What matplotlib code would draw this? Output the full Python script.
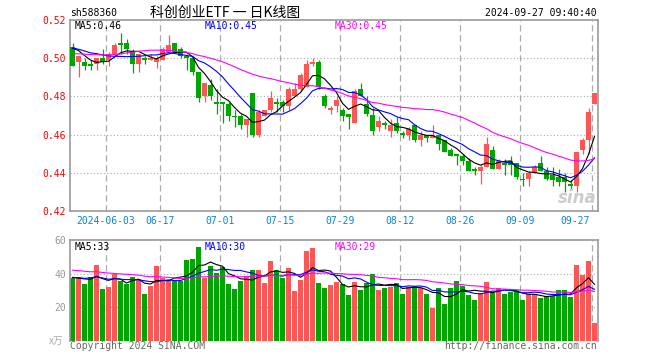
import numpy as np
import pandas as pd
import matplotlib
matplotlib.use("Agg")
import matplotlib.pyplot as plt
import matplotlib.transforms as mtransforms

plt.rcParams['font.family'] = ['DejaVu Sans Mono', 'Noto Sans CJK SC']

W, H = 660, 360

# trading days shown (holidays removed)
dates = pd.bdate_range("2024-05-24", "2024-09-27")
dates = dates[~dates.isin(pd.to_datetime(["2024-06-10", "2024-09-16", "2024-09-17"]))]

opens = [0.506, 0.498, 0.498, 0.497, 0.497, 0.500, 0.499, 0.502, 0.508, 0.508,
         0.504, 0.497, 0.500, 0.499, 0.498, 0.499, 0.503, 0.508, 0.505, 0.501,
         0.500, 0.493, 0.480, 0.486, 0.477, 0.477, 0.476, 0.470, 0.470, 0.465,
         0.482, 0.460, 0.470, 0.473, 0.477, 0.477, 0.475, 0.480, 0.484, 0.485,
         0.497, 0.498, 0.480, 0.473, 0.475, 0.473, 0.471, 0.466, 0.484, 0.476,
         0.470, 0.464, 0.466, 0.462, 0.466, 0.461, 0.460, 0.465, 0.457, 0.460,
         0.458, 0.460, 0.457, 0.452, 0.450, 0.449, 0.446, 0.442, 0.441, 0.443,
         0.452, 0.442, 0.445, 0.446, 0.445, 0.437, 0.437, 0.440, 0.445, 0.441,
         0.439, 0.438, 0.438, 0.434, 0.433, 0.452, 0.457, 0.476]
highs = [0.508, 0.501, 0.500, 0.499, 0.500, 0.505, 0.503, 0.508, 0.513, 0.510,
         0.505, 0.502, 0.501, 0.502, 0.501, 0.506, 0.512, 0.508, 0.506, 0.502,
         0.501, 0.493, 0.487, 0.489, 0.484, 0.477, 0.477, 0.473, 0.471, 0.468,
         0.482, 0.473, 0.473, 0.483, 0.479, 0.478, 0.485, 0.487, 0.492, 0.499,
         0.500, 0.499, 0.481, 0.475, 0.480, 0.474, 0.471, 0.484, 0.487, 0.480,
         0.474, 0.470, 0.467, 0.468, 0.469, 0.462, 0.464, 0.465, 0.462, 0.460,
         0.465, 0.460, 0.457, 0.453, 0.450, 0.450, 0.448, 0.443, 0.444, 0.459,
         0.454, 0.447, 0.447, 0.449, 0.445, 0.440, 0.441, 0.444, 0.449, 0.443,
         0.443, 0.442, 0.440, 0.436, 0.451, 0.458, 0.474, 0.482]
lows = [0.496, 0.490, 0.494, 0.494, 0.494, 0.497, 0.496, 0.501, 0.502, 0.502,
        0.492, 0.493, 0.497, 0.499, 0.495, 0.499, 0.503, 0.503, 0.500, 0.494,
        0.491, 0.477, 0.477, 0.478, 0.471, 0.466, 0.467, 0.464, 0.463, 0.459,
        0.459, 0.459, 0.470, 0.472, 0.472, 0.472, 0.473, 0.480, 0.483, 0.485,
        0.496, 0.484, 0.474, 0.471, 0.472, 0.467, 0.463, 0.466, 0.480, 0.470,
        0.460, 0.462, 0.463, 0.459, 0.461, 0.458, 0.457, 0.456, 0.454, 0.456,
        0.458, 0.452, 0.451, 0.449, 0.444, 0.444, 0.441, 0.439, 0.434, 0.443,
        0.442, 0.442, 0.439, 0.439, 0.437, 0.433, 0.433, 0.440, 0.441, 0.436,
        0.433, 0.433, 0.430, 0.431, 0.430, 0.450, 0.450, 0.476]
closes = [0.496, 0.501, 0.496, 0.496, 0.500, 0.498, 0.502, 0.507, 0.507, 0.505,
          0.497, 0.502, 0.499, 0.500, 0.500, 0.505, 0.507, 0.503, 0.501, 0.500,
          0.493, 0.479, 0.487, 0.480, 0.476, 0.476, 0.470, 0.469, 0.465, 0.468,
          0.460, 0.472, 0.473, 0.479, 0.476, 0.475, 0.484, 0.484, 0.491, 0.497,
          0.498, 0.485, 0.475, 0.474, 0.478, 0.470, 0.469, 0.483, 0.480, 0.471,
          0.462, 0.467, 0.465, 0.465, 0.462, 0.460, 0.463, 0.457, 0.460, 0.458,
          0.460, 0.455, 0.451, 0.449, 0.449, 0.446, 0.441, 0.441, 0.443, 0.455,
          0.442, 0.446, 0.444, 0.444, 0.438, 0.436, 0.440, 0.443, 0.441, 0.437,
          0.436, 0.435, 0.435, 0.433, 0.451, 0.457, 0.472, 0.482]
volumes = [37.6, 37.6, 33.6, 37.8, 45.2, 30.6, 32.2, 39.6, 35.6, 33.6,
           37.8, 36.6, 27.6, 32.8, 44.4, 37.6, 36.0, 35.6, 35.6, 48.0,
           48.8, 55.8, 37.2, 44.4, 40.4, 44.0, 33.6, 30.6, 35.6, 38.8,
           42.0, 42.0, 34.2, 47.6, 42.0, 37.6, 43.4, 29.6, 36.0, 53.6,
           55.2, 34.4, 31.2, 33.0, 34.8, 33.8, 27.0, 34.8, 30.0, 34.4,
           39.6, 30.0, 31.2, 32.2, 34.2, 27.6, 32.0, 32.8, 31.6, 27.6,
           19.4, 31.2, 21.6, 31.2, 35.4, 32.4, 27.0, 24.0, 28.6, 34.8,
           28.8, 31.2, 27.6, 28.8, 30.0, 24.0, 27.6, 27.6, 25.2, 26.4,
           26.4, 30.0, 30.0, 25.8, 45.2, 39.0, 47.4, 10.2]

# earlier sessions, only used to start the moving averages
pre_closes = [0.500, 0.503, 0.501, 0.502, 0.504, 0.500, 0.502, 0.499,
              0.488, 0.486, 0.487, 0.489, 0.492,
              0.500, 0.506, 0.510, 0.512, 0.511, 0.513, 0.510,
              0.508, 0.505, 0.506, 0.504, 0.505,
              0.507, 0.509, 0.508, 0.506]
pre_volumes = [46, 44, 48, 43, 45, 42, 47, 44, 41, 45,
               43, 46, 44, 42, 45, 43, 44, 46, 42, 45,
               36, 39, 35, 38, 38,
               40, 36, 39, 36]

tick_dates = ["2024-06-03", "2024-06-17", "2024-07-01", "2024-07-15", "2024-07-29",
              "2024-08-12", "2024-08-26", "2024-09-09", "2024-09-27"]

RED = '#ff5555'
GREEN = '#00a600'
FRAME = '#999999'
MA_COLORS = {5: 'black', 10: '#0000ff', 30: '#ff00ff'}

o = np.array(opens); hi = np.array(highs); lo = np.array(lows); c = np.array(closes)
v = np.array(volumes)
x = np.arange(len(c))
cols = [RED if cc >= oo else GREEN for oo, cc in zip(o, c)]


def ma(pre, vals, n):
    s = pd.Series(list(pre) + list(vals))
    return s.rolling(n).mean().iloc[len(pre):].to_numpy()


fig = plt.figure(figsize=(W / 100, H / 100), dpi=100)
ax = fig.add_axes([70 / W, 1 - 211 / H, 528 / W, 191 / H])
axv = fig.add_axes([70 / W, 1 - 340.5 / H, 528 / W, 100.5 / H])

xmin, xmax = -5 / 12, len(c) - 5 / 12
tick_idx = [dates.get_loc(pd.Timestamp(d)) for d in tick_dates]

# ---- price panel
for yv in [0.44, 0.46, 0.48, 0.50]:
    ax.axhline(yv, color='#aaaaaa', lw=0.8, ls=(0, (1, 2)), zorder=0)
for t in tick_idx:
    ax.axvline(t - 0.4, color='#aaaaaa', lw=0.9, ls=(0, (5, 3)), zorder=0)

ax.vlines(x, lo, hi, colors=cols, lw=0.9, zorder=2)
ax.bar(x, np.maximum(np.abs(c - o), 0.0005), bottom=np.minimum(o, c), width=0.82,
       color=cols, lw=0, zorder=3)
for n, col in MA_COLORS.items():
    ax.plot(x, ma(pre_closes, closes, n), color=col, lw=0.8, zorder=4)

ax.set_xlim(xmin, xmax)
ax.set_ylim(0.42, 0.52)
ax.set_yticks(np.arange(0.42, 0.5201, 0.02))
ax.set_yticklabels([f"{t:.2f}" for t in np.arange(0.42, 0.5201, 0.02)])
ax.tick_params(axis='y', length=0, pad=3, labelsize=7, labelcolor='red')
ax.set_xticks([])
for s in ax.spines.values():
    s.set_color(FRAME)
    s.set_linewidth(1.2)

trans = mtransforms.blended_transform_factory(ax.transData, ax.transAxes)
for k, (t, d) in enumerate(zip(tick_idx, tick_dates)):
    lab = d if k == 0 else d[5:]
    if k == len(tick_idx) - 1:
        ax.text(xmax - 1.3, -0.05, lab, transform=trans, ha='right', va='center',
                fontsize=7, color='#0a84d6')
    else:
        ax.text(t - 0.4, -0.05, lab, transform=trans, ha='center', va='center',
                fontsize=7, color='#0a84d6')

# ---- volume panel
for yv in [20, 40]:
    axv.axhline(yv, color='#aaaaaa', lw=0.8, ls=(0, (1, 2)), zorder=0)
for t in tick_idx:
    axv.axvline(t - 0.4, color='#aaaaaa', lw=0.9, ls=(0, (5, 3)), zorder=0)
axv.bar(x, v, width=0.82, color=cols, lw=0, zorder=2)
vma = {}
for n, col in MA_COLORS.items():
    vma[n] = ma(pre_volumes, volumes, n)
    axv.plot(x, vma[n], color=col, lw=0.8, zorder=4)
axv.set_xlim(xmin, xmax)
axv.set_ylim(0, 60)
axv.set_yticks([20, 40, 60])
axv.tick_params(axis='y', length=0, pad=3, labelsize=7, labelcolor='#999999')
axv.set_xticks([])
for s in axv.spines.values():
    s.set_color(FRAME)
    s.set_linewidth(1.2)
axv.spines['bottom'].set_visible(False)

# ---- texts
def fp(px, py):
    return px / W, 1 - py / H

pma = {n: ma(pre_closes, closes, n)[-1] for n in MA_COLORS}
fig.text(*fp(70, 13), "sh588360", fontsize=7, va='center', ha='left')
fig.text(*fp(150, 13), "科创创业ETF 一 日K线图", fontsize=10, va='center', ha='left',
         family=['Noto Sans CJK SC', 'DejaVu Sans'])
fig.text(*fp(597, 13), "2024-09-27 09:40:40", fontsize=7, va='center', ha='right')

for (n, col), px in zip(MA_COLORS.items(), [75, 205, 335]):
    fig.text(*fp(px, 26), f"MA{n}:{pma[n]:.2f}", fontsize=7, color=col, va='center')
    fig.text(*fp(px, 247), f"MA{n}:{int(vma[n][-1])}", fontsize=7, color=col, va='center')

fig.text(*fp(63, 341), "x万", fontsize=7, color='#aaaaaa', ha='right', va='center',
         family=['Noto Sans CJK SC', 'DejaVu Sans'])
fig.text(*fp(70, 346), "Copyright 2024 SINA.COM", fontsize=7, color='#666666', va='center')
fig.text(*fp(597, 346), "http://finance.sina.com.cn", fontsize=7, color='#666666',
         va='center', ha='right')
fig.text(*fp(597, 198), "sina", fontsize=12, fontweight='bold', style='italic',
         color='#cccccc', ha='right', va='center', family='DejaVu Sans')

fig.savefig("out.png", dpi=100)
